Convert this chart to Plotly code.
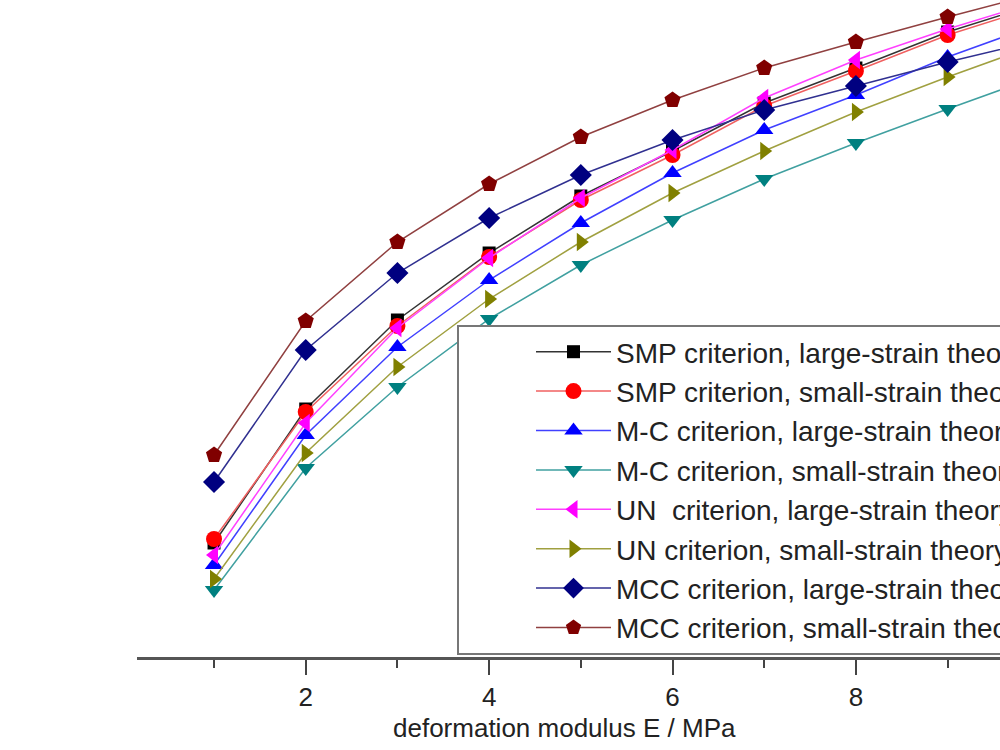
import plotly.graph_objects as go

E = [1, 2, 3, 4, 5, 6, 7, 8, 9, 10]

smp_large = [11.4, 24.8, 33.7, 40.4, 46.1, 50.6, 55.4, 58.9, 62.5, 65.4]
smp_small = [11.8, 24.5, 33.1, 40.0, 45.7, 50.2, 55.1, 58.6, 62.2, 65.1]
mc_large = [9.2, 22.2, 31.0, 37.7, 43.4, 48.4, 52.7, 56.2, 60.0, 63.3]
mc_small = [6.7, 18.9, 27.0, 33.8, 39.2, 43.7, 47.8, 51.4, 54.8, 58.1]
un_large = [10.2, 23.4, 32.9, 39.9, 45.9, 50.7, 55.9, 59.7, 62.8, 65.6]
un_small = [7.8, 20.4, 29.0, 35.8, 41.5, 46.4, 50.6, 54.5, 58.0, 61.3]
mcc_large = [17.5, 30.7, 38.4, 43.9, 48.2, 51.7, 54.7, 57.1, 59.5, 61.7]
mcc_small = [20.2, 33.6, 41.5, 47.3, 52.0, 55.7, 58.9, 61.5, 64.0, 66.4]

tick_vals = [2, 4, 6, 8]
tick_text = ["2", "4", "6", "8"]
minor_vals = [1, 3, 5, 7, 9]
x_title = "deformation modulus E / MPa"

names = [
    "SMP criterion, large-strain theory",
    "SMP criterion, small-strain theory",
    "M-C criterion, large-strain theory",
    "M-C criterion, small-strain theory",
    "UN  criterion, large-strain theory",
    "UN criterion, small-strain theory",
    "MCC criterion, large-strain theory",
    "MCC criterion, small-strain theory",
]
series = [smp_large, smp_small, mc_large, mc_small, un_large, un_small, mcc_large, mcc_small]
symbols = ["square", "circle", "triangle-up", "triangle-down", "triangle-left",
           "triangle-right", "diamond", "pentagon"]
mcolors = ["#000000", "#ff0000", "#0000ff", "#008080", "#ff00ff", "#808000", "#000080", "#800000"]
lcolors = ["#333333", "#f06060", "#4040ff", "#40a0a0", "#ff40ff", "#a0a040", "#303090", "#904040"]
msizes = [13, 16, 16, 16, 16, 16, 17, 17]

fig = go.Figure()
for name, ys, sym, mc, lc, ms in zip(names, series, symbols, mcolors, lcolors, msizes):
    fig.add_trace(go.Scatter(
        x=E, y=ys, name=name, mode="lines+markers",
        line=dict(color=lc, width=1.5),
        marker=dict(symbol=sym, color=mc, size=ms, line=dict(width=0)),
    ))

# figure is wider than the 1000px window: the right part is cut off like the reference crop
FIG_W = 1350
PLOT_L, PLOT_R = 137, 1100
PLOT_B = 657

fig.update_layout(
    width=FIG_W, height=750,
    paper_bgcolor="white", plot_bgcolor="white",
    margin=dict(l=PLOT_L, r=FIG_W - PLOT_R, t=0, b=750 - PLOT_B, autoexpand=False),
    font=dict(family="Liberation Sans, Arial, sans-serif", color="#222"),
    showlegend=True,
    legend=dict(
        x=(457 - PLOT_L) / (PLOT_R - PLOT_L), y=(PLOT_B - 325) / PLOT_B,
        xanchor="left", yanchor="top",
        bgcolor="white", bordercolor="#777", borderwidth=2,
        font=dict(size=28, color="#222"),
        tracegroupgap=0, itemwidth=75, indentation=72,
    ),
    xaxis=dict(
        range=[0.16, 1 + (PLOT_R - 214.3) / 91.67], showgrid=False, zeroline=False,
        showline=True, linecolor="#555", linewidth=3,
        tickvals=tick_vals, ticktext=tick_text,
        ticks="outside", ticklen=15, tickwidth=2, tickcolor="#444",
        tickfont=dict(size=26, color="#222"),
        minor=dict(tickvals=minor_vals, ticks="outside", ticklen=8, tickwidth=2, tickcolor="#444"),
    ),
    yaxis=dict(range=[0, 65.7], visible=False, showgrid=False, zeroline=False),
    annotations=[dict(
        text=x_title, xref="paper", yref="paper",
        x=(564 - PLOT_L) / (PLOT_R - PLOT_L), y=-(728 - PLOT_B) / PLOT_B,
        xanchor="center", yanchor="middle", showarrow=False,
        font=dict(size=26, color="#222"),
    )],
)

fig.write_html(
    "out.html",
    post_script="document.body.style.overflow='hidden';document.documentElement.style.overflow='hidden';",
)
